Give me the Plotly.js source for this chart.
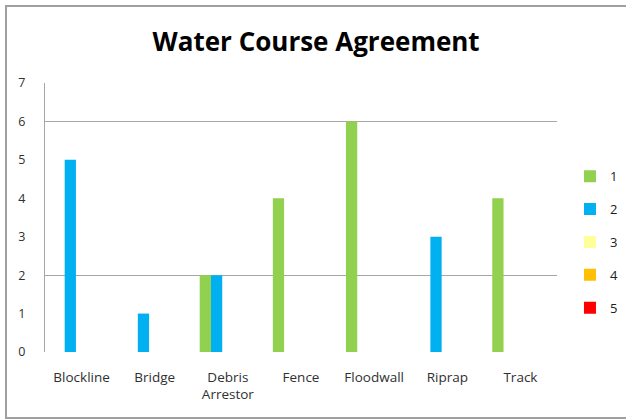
<!DOCTYPE html>
<html>
<head>
<meta charset="utf-8">
<script src="https://cdn.plot.ly/plotly-3.0.1.min.js"></script>
<style>
  html, body { margin: 0; padding: 0; background: #fff; overflow: hidden; }
  #wrap { position: relative; width: 626px; height: 419px; overflow: hidden; }
  #frame { position: absolute; left: 5px; top: 5px; width: 1000px; height: 414px; border: 2px solid #a0a0a0; box-sizing: border-box; }
  #chart { position: absolute; left: 0; top: 0; width: 626px; height: 419px; }
</style>
</head>
<body>
<div id="wrap">
  <div id="chart"></div>
  <div id="frame"></div>
</div>
<script>
const categories = ["Blockline", "Bridge", "Debris<br>Arrestor", "Fence", "Floodwall", "Riprap", "Track"];
const seriesNames = ["1", "2", "3", "4", "5"];
const series1 = [null, null, 2, 4, 6, null, 4];
const series2 = [5, 1, 2, null, null, 3, null];
const series3 = [null, null, null, null, null, null, null];
const series4 = [null, null, null, null, null, null, null];
const series5 = [null, null, null, null, null, null, null];
const gridValues = [2, 6, 7];

const colors = ["#92D050", "#00B0F0", "#FFFF99", "#FFC000", "#FF0000"];
const allSeries = [series1, series2, series3, series4, series5];

const traces = allSeries.map((vals, i) => ({
  type: "bar",
  name: seriesNames[i],
  legendgroup: "g" + i,
  x: categories,
  y: vals,
  marker: { color: colors[i], line: { width: 0 } },
  hoverinfo: "x+y+name"
}));

// invisible helper trace to carry the partial gridlines axis
traces.push({
  type: "scatter", mode: "none", x: [categories[0]], y: [0],
  yaxis: "y2", showlegend: false, hoverinfo: "skip"
});

const layout = {
  width: 626, height: 419,
  paper_bgcolor: "#ffffff", plot_bgcolor: "rgba(0,0,0,0)",
  margin: { l: 45, r: 69, t: 83, b: 67, autoexpand: false },
  title: {
    text: "<b>Water Course Agreement</b>",
    font: { family: "Open Sans, sans-serif", size: 26, color: "#000000" },
    x: 0.505, xanchor: "center", y: 0.9, yanchor: "middle"
  },
  barmode: "group",
  bargap: 0.23,
  bargroupgap: 0,
  showlegend: true,
  legend: {
    xref: "container", yref: "container",
    x: 0.9105, xanchor: "left", y: 0.422, yanchor: "middle",
    font: { family: "Open Sans, sans-serif", size: 13, color: "#202020" },
    tracegroupgap: 13, itemwidth: 30, traceorder: "grouped",
    bgcolor: "rgba(0,0,0,0)"
  },
  xaxis: {
    type: "category",
    showgrid: false, showline: false, zeroline: false, ticks: "",
    tickfont: { family: "Open Sans, sans-serif", size: 13.5, color: "#303030" },
    ticklabelstandoff: 15
  },
  yaxis: {
    range: [0, 7], dtick: 1, tick0: 0,
    showgrid: false, zeroline: false,
    showline: true, linecolor: "#a6a6a6", linewidth: 1, ticks: "",
    tickfont: { family: "Open Sans, sans-serif", size: 12.5, color: "#303030" },
    ticklabelstandoff: 16
  },
  yaxis2: {
    overlaying: "y", range: [0, 7],
    tickmode: "array", tickvals: gridValues, showticklabels: false,
    showgrid: true, gridcolor: "#a6a6a6", gridwidth: 1,
    zeroline: false, showline: false, ticks: ""
  }
};

Plotly.newPlot("chart", traces, layout, { displayModeBar: false, staticPlot: true });
</script>
</body>
</html>
